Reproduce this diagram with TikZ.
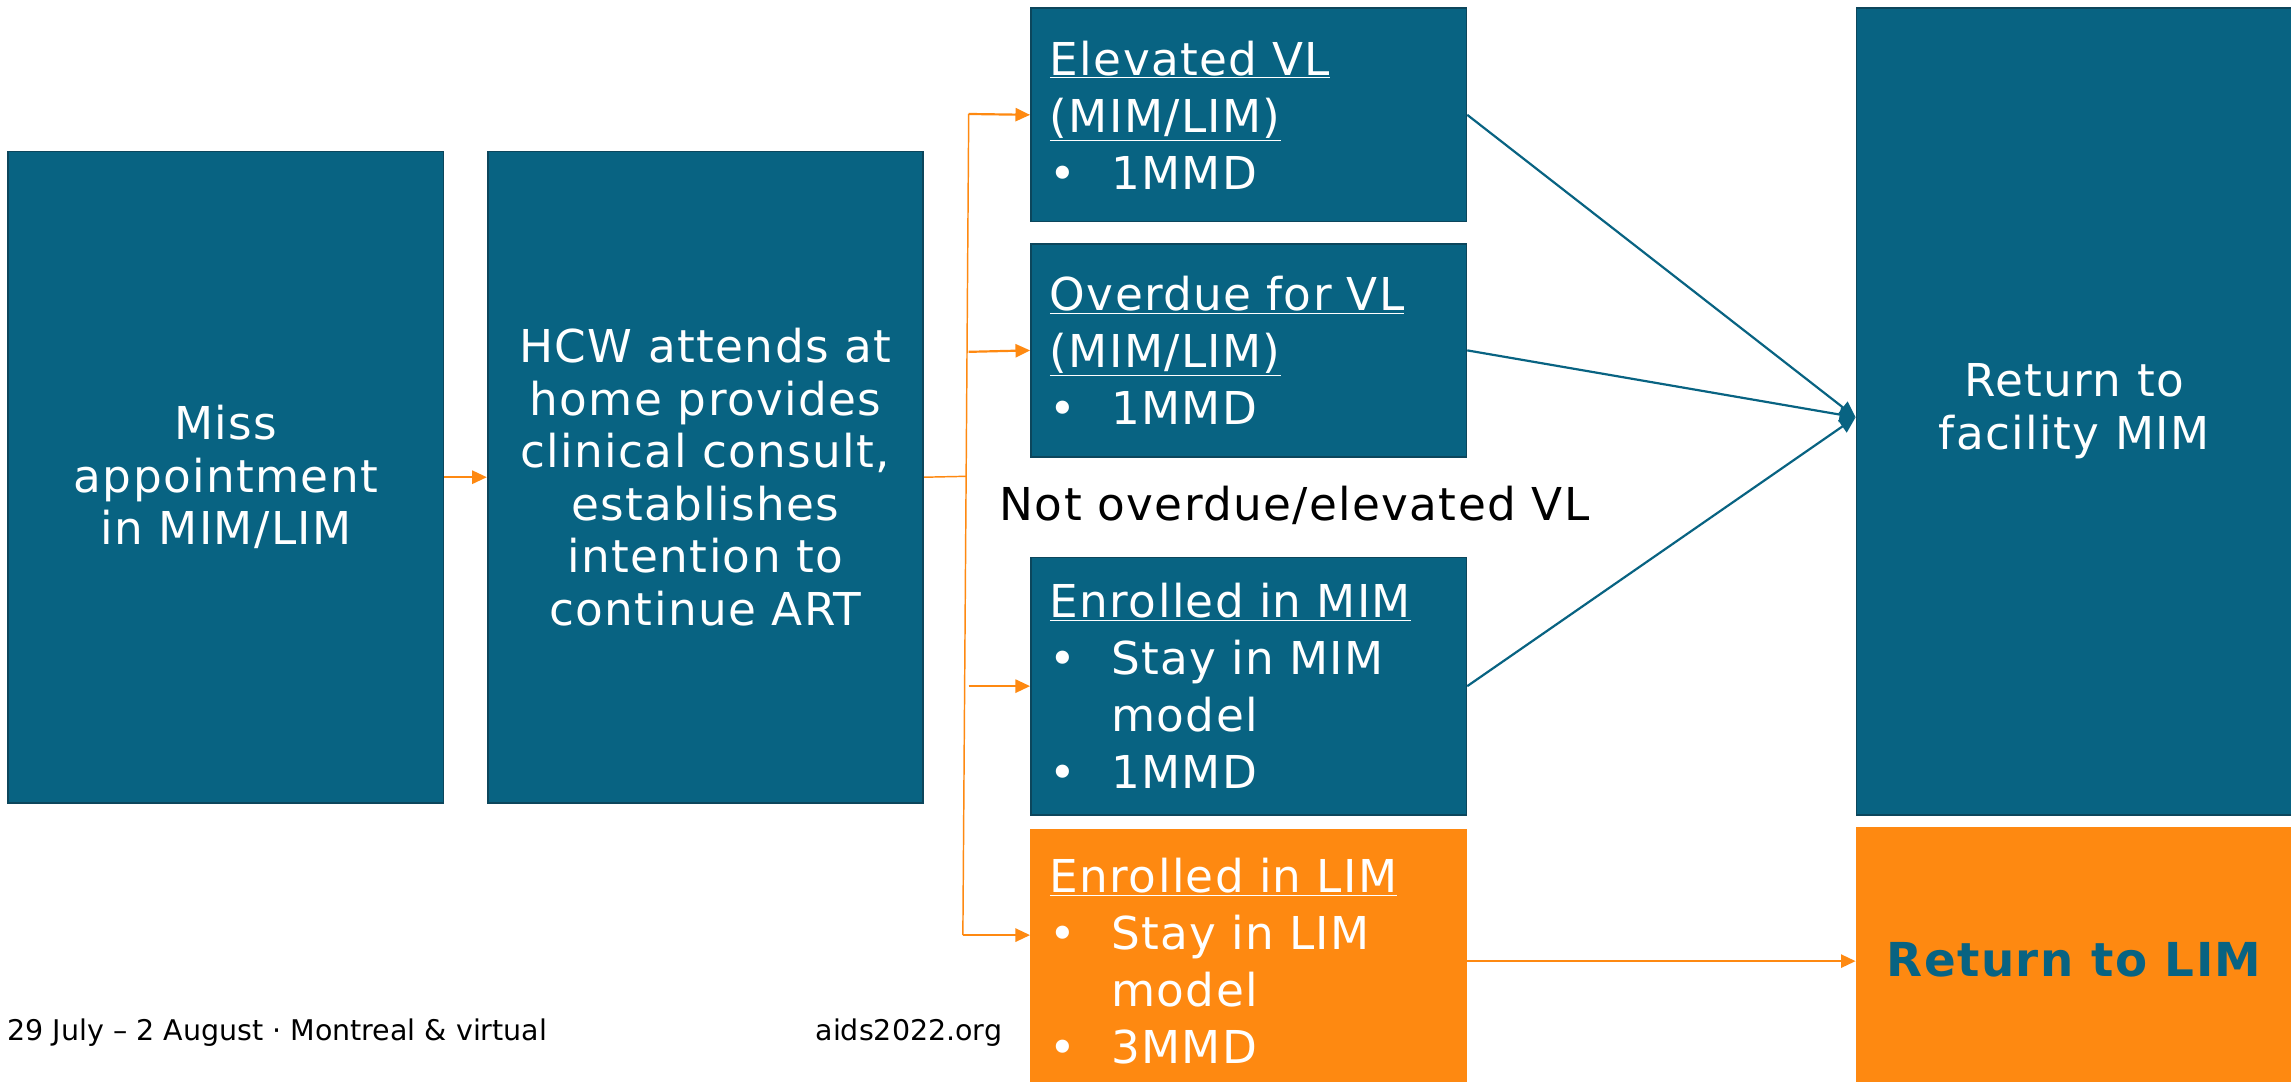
\documentclass[tikz,border=0pt]{standalone}
\usepackage{fontspec}
\setmainfont{DejaVu Sans}[LetterSpace=3]
\newfontfamily\footfont{DejaVu Sans}
\usetikzlibrary{positioning,arrows.meta}
\definecolor{hcteal}{RGB}{8,99,130}
\definecolor{hcedge}{RGB}{12,70,92}
\definecolor{hcorange}{RGB}{254,137,17}
\tikzset{
  tbox/.style={draw=hcedge,line width=1.2pt,fill=hcteal,text=white,
              anchor=north west,align=center,inner sep=0pt,
              minimum width=298pt,font=\fontsize{31}{36}\selectfont},
  rbox/.style={tbox,align=left,text width=272pt,
              font=\fontsize{31}{39}\selectfont},
  orbox/.style={rbox,draw=hcorange,fill=hcorange},
  orarrow/.style={-{Triangle[length=10pt,width=9pt]},hcorange,line width=1.5pt},
  orline/.style={hcorange,line width=1pt},
  tlarrow/.style={-{Triangle[length=11pt,width=10pt]},hcteal,line width=1.5pt},
  foot/.style={anchor=west,inner sep=0pt,font=\footfont\fontsize{19.5}{23}\selectfont},
}
\newcommand{\bul}{\makebox[42pt][l]{\textbullet}}
\newcommand{\ind}{\hspace*{42pt}}

\begin{document}
\begin{tikzpicture}[x=1pt,y=-1pt]
  \useasboundingbox[fill=white] (0,0) rectangle (1568,740);
  % left column
  \node[tbox,minimum height=446pt] (miss) at (5,103)
        {Miss\\appointment\\in MIM/LIM};
  \node[tbox,minimum height=446pt,right=29pt of miss.north east,anchor=north west] (hcw)
        {HCW attends at\\home provides\\clinical consult,\\establishes\\intention to\\continue ART};
  % middle column
  \node[rbox,minimum height=146pt] (elev) at (705,5)
        {\underline{Elevated VL}\\\underline{(MIM/LIM)}\\\bul 1MMD};
  \node[rbox,minimum height=146pt,below=14pt of elev.south west,anchor=north west] (overdue)
        {\underline{Overdue for VL}\\\underline{(MIM/LIM)}\\\bul 1MMD};
  \node[font=\fontsize{31}{36}\selectfont,inner sep=0pt] (notover) at (886,346)
        {Not overdue/elevated VL};
  \node[rbox,minimum height=176pt] (enrmim) at (705,381)
        {\underline{Enrolled in MIM}\\\bul Stay in MIM\\\ind model\\\bul 1MMD};
  \node[orbox,minimum height=180pt,below=9pt of enrmim.south west,anchor=north west] (enrlim)
        {\underline{Enrolled in LIM}\\\bul Stay in LIM\\\ind model\\\bul 3MMD};
  % right column
  \node[tbox,minimum height=552pt] (facil) at (1270,5)
        {Return to\\facility MIM};
  \node[tbox,draw=hcorange,fill=hcorange,text=hcteal,minimum height=180pt,
        font=\fontsize{32}{36}\selectfont\bfseries] (retlim) at (1270,566)
        {Return to LIM};
  % footer
  \node[foot] (date) at (5,707) {29 July – 2 August · Montreal \& virtual};
  \node[foot] (site) at (558,707) {aids2022.org};

  % connectors
  \coordinate (fork) at (661,326);
  \coordinate (ftop) at (663,78);
  \coordinate (fbot) at (659,640);
  \draw[orarrow] (miss.east) -- (hcw.east -| hcw.west);
  \draw[orline] (hcw.east) -- (fork);
  \draw[orline] (ftop) -- (fbot);
  \draw[orarrow] (ftop) -- (elev.west);
  \draw[orarrow] ([yshift=-1pt]ftop |- overdue.west) -- (overdue.west);
  \draw[orarrow] (ftop |- enrmim.west) -- (enrmim.west);
  \draw[orarrow] (fbot) -- (fbot -| enrlim.west);
  \coordinate (join) at ([yshift=-4pt]facil.west);
  \draw[tlarrow] (elev.east) -- (join);
  \draw[tlarrow] (overdue.east) -- (join);
  \draw[tlarrow] (enrmim.east) -- (join);
  \draw[orarrow] (enrlim.east) -- (enrlim.east -| retlim.west);
\end{tikzpicture}
\end{document}
